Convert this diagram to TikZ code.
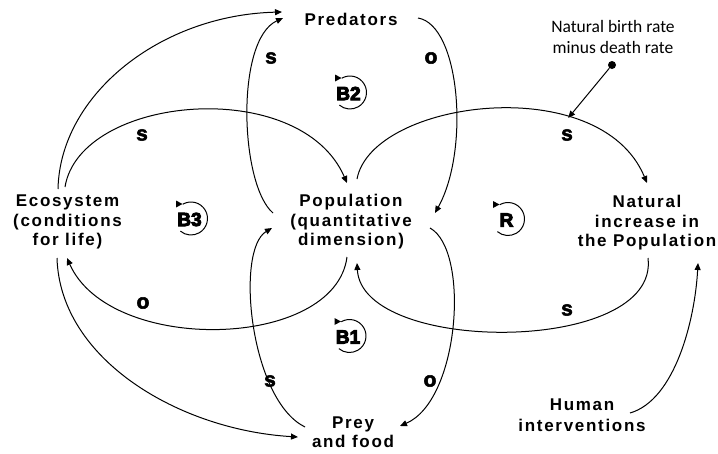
\documentclass[tikz,border=0pt]{standalone}
\usepackage{fontspec}
\setmainfont{Liberation Sans}
\newfontfamily\namefont{Liberation Sans Bold}[LetterSpace=10]
\newfontfamily\polfont{Liberation Sans Bold}[FakeBold=2.5]
\newfontfamily\tagfont{Liberation Sans Bold}[FakeBold=5]
\newfontfamily\notefont{Carlito}
\usetikzlibrary{arrows.meta}

\begin{document}
\begin{tikzpicture}[x=1pt,y=-1pt,
  var/.style={font=\namefont\fontsize{17}{19.5}\selectfont, align=center, inner sep=0pt},
  pol/.style={font=\polfont\fontsize{21}{21}\selectfont, inner sep=0pt},
  link/.style={line width=1pt, -{Triangle[length=7pt,width=6pt]}},
  loopsym/.pic={
    \draw[line width=1pt] (-120:16.5) arc[start angle=-120, end angle=130, radius=16.5];
    \fill (-15,-18) -- (-15,-11) -- (-8.5,-14.5) -- cycle;
    \node[font=\tagfont\fontsize{19}{19}\selectfont, inner sep=0pt] (-tag) at (-1.5,1) {#1};
  }
]
\useasboundingbox (0,0) rectangle (718,453);
\fill[white] (0,0) rectangle (718,453);

% variables
\node[var] (pred) at (351,19)  {Predators};
\node[var] (pop)  at (351,222) {Population\\(quantitative\\dimension)};
\node[var] (eco)  at (67.5,222) {Ecosystem\\(conditions\\for life)};
\node[var] (nat)  at (647,223) {Natural\\increase in\\the Population};
\node[var] (prey) at (353,432) {Prey\\and food};
\node[var] (hum)  at (582,415) {Human\\[2pt]interventions};
\node[font=\notefont\fontsize{17.5}{21.5}\selectfont, align=center, inner sep=0pt]
  (rate) at (613,37) {Natural birth rate\\minus death rate};
\node[circle, fill, inner sep=0pt, minimum size=8pt] (dot) at (612,65) {};

% causal links
\draw[link] ([shift={(-9.5,-33)}]eco.center) .. controls (60,95) and (160,15) .. ([shift={(-69,-7)}]pred.center);
\draw[link] ([shift={(-2.5,-35)}]eco.center) .. controls (80,95) and (300,75) .. ([shift={(-4,-39)}]pop.center);
\draw[link] ([shift={(-4,35)}]pop.center) .. controls (335,350) and (110,355) .. ([shift={(-0.5,36)}]eco.center);
\draw[link] ([shift={(-10.5,36)}]eco.center) .. controls (60,360) and (180,430) .. ([shift={(-55,5)}]prey.center);
\draw[link] ([shift={(-78,-9)}]pop.center) .. controls (240,185) and (235,40) .. ([shift={(-68,-1)}]pred.center);
\draw[link] ([shift={(67,-1)}]pred.center) .. controls (460,25) and (470,150) .. ([shift={(84,-9)}]pop.center);
\draw[link] ([shift={(6,-43)}]pop.center) .. controls (372,100) and (600,70) .. coordinate[pos=0.705] (inflow) ([shift={(0,-40)}]nat.center);
\draw[link] ([shift={(1,35)}]nat.center) .. controls (660,355) and (362,355) .. ([shift={(6,41)}]pop.center);
\draw[link] ([shift={(79,6)}]pop.center) .. controls (470,250) and (460,400) .. ([shift={(47,-6)}]prey.center);
\draw[link] ([shift={(-48,-5)}]prey.center) .. controls (250,400) and (235,250) .. ([shift={(-79,6)}]pop.center);
\draw[link] ([shift={(48,-2)}]hum.center) .. controls (675,400) and (695,320) .. ([shift={(51,40)}]nat.center);
\draw[link] (dot) -- (inflow);

% polarities
\node[pol] (p1) at (271,58)  {s};
\node[pol] (p2) at (431,58)  {o};
\node[pol] (p3) at (142,135) {s};
\node[pol] (p4) at (143,303) {o};
\node[pol] (p5) at (567,135) {s};
\node[pol] (p6) at (567,310) {s};
\node[pol] (p7) at (270,381) {s};
\node[pol] (p8) at (430,381) {o};

% loop markers
\pic (b2) at (350,92.5) {loopsym={B2}};
\pic (b3) at (191,218.5) {loopsym={B3}};
\pic (r)  at (508,219) {loopsym={R}};
\pic (b1) at (349.5,336) {loopsym={B1}};
\end{tikzpicture}
\end{document}
